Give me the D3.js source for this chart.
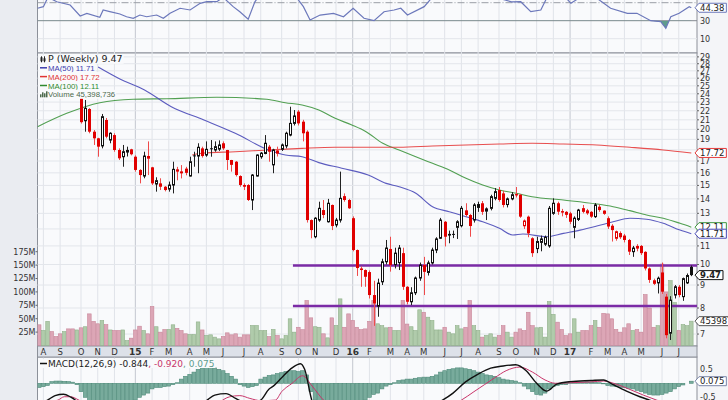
<!DOCTYPE html>
<html>
<head>
<meta charset="utf-8">
<script src="https://cdn.jsdelivr.net/npm/d3@7"></script>
<style>
  body { margin: 0; background: #eef0f4; }
  svg { display: block; }
  text { font-family: "DejaVu Sans", sans-serif; }
</style>
</head>
<body>
<script>
// weekly bars, bar 0 = week of 2014-07-28
const nBars = 157;
const firstWeek = new Date(2014, 6, 28);
const monthLabels = ["A","S","O","N","D","15","F","M","A","M","J","J","A","S","O","N","D","16",
  "F","M","A","M","J","J","A","S","O","N","D","17","F","M","A","M","J","J"];

// candles start at bar 10 (earlier ones sit behind the legend)
const firstCandle = 10;
const closeBeforeFirst = 23.5;
const open = [23.45,20.9,22.2,19.76,19.1,18.37,20.98,18.93,19.42,17.99,
  17.38,17.8,18.05,17.38,16.24,15.74,17.25,16.46,15.11,15.16,
  14.9,14.72,15.03,16.29,16.0,16.35,15.74,17.5,17.44,18.14,
  17.53,18.15,17.99,18.07,18.62,17.99,17.09,16.94,15.74,15.03,
  15.03,13.92,15.74,17.38,17.67,18.3,16.67,17.7,18.05,18.37,
  19.42,20.62,21.9,20.8,19.76,12.56,11.53,12.56,13.22,12.45,
  13.57,12.25,12.56,14.2,13.92,12.68,10.77,9.8,9.72,9.62,
  8.55,8.08,9.15,10.14,10.83,10.0,10.1,10.6,8.92,8.26,
  8.65,9.33,9.97,9.6,10.08,10.77,11.44,12.45,11.7,11.7,
  12.1,12.2,13.2,12.89,12.56,13.4,13.69,13.15,13.34,14.04,
  14.65,14.4,13.6,14.0,14.35,14.3,12.2,12.78,11.44,10.85,
  11.2,11.1,11.0,13.0,13.69,13.15,13.1,13.0,12.1,12.6,
  13.35,13.2,13.1,12.78,13.45,13.0,12.68,12.2,11.44,11.75,
  11.6,11.34,10.68,11.0,11.0,10.67,9.8,9.08,9.1,9.6,
  8.48,7.03,8.55,8.92,8.48,9.1,9.88];
const high = [23.6,23.25,22.3,19.93,19.15,21.64,21.2,19.7,19.6,18.14,
  18.46,18.3,18.1,17.5,16.3,17.83,18.8,16.5,15.64,15.56,
  14.95,15.3,16.94,16.5,16.65,16.5,17.38,17.83,18.62,18.3,
  18.8,18.93,18.8,18.9,18.8,18.0,17.1,17.0,15.8,15.16,
  15.1,15.9,17.6,17.8,19.42,18.46,18.1,18.3,18.6,19.76,
  22.46,22.08,22.08,21.0,19.9,12.6,12.75,13.8,13.92,14.0,
  13.6,12.7,16.1,14.4,14.0,12.8,10.8,9.9,9.75,9.7,
  9.2,9.3,10.3,11.34,11.53,10.9,11.05,10.9,8.95,8.9,
  9.4,10.1,10.4,10.2,10.9,11.5,12.7,12.5,11.9,11.9,
  12.55,13.5,13.69,12.95,13.7,13.8,13.85,13.4,14.3,14.8,
  14.88,14.6,14.1,14.5,14.88,14.35,12.6,12.85,11.5,11.53,
  11.6,11.6,13.5,14.04,13.8,13.3,13.15,13.1,12.8,13.3,
  13.57,13.3,13.15,13.7,13.6,13.2,12.8,12.3,11.9,11.85,
  11.7,11.4,11.0,11.1,11.05,10.7,9.85,9.3,9.4,10.1,
  8.6,8.5,9.0,9.0,9.35,9.55,9.95];
const low = [20.6,19.76,19.6,18.46,17.38,18.14,19.1,18.62,17.83,17.09,
  16.51,17.4,17.5,16.1,15.16,15.56,15.82,15.03,14.53,14.65,
  14.55,14.53,14.4,15.4,15.55,15.8,15.7,16.51,15.97,17.3,
  17.38,17.38,17.83,17.9,17.99,16.24,16.1,15.7,14.9,14.65,
  13.85,13.22,15.7,17.2,17.6,16.94,15.97,17.4,17.9,18.14,
  19.3,20.4,20.4,18.8,12.4,11.44,11.44,12.45,12.68,12.4,
  11.93,12.1,12.4,13.8,13.3,10.7,9.43,8.92,8.92,8.4,
  7.3,7.65,9.0,10.0,9.64,9.8,9.72,8.78,8.15,8.12,
  8.55,9.2,8.55,9.45,10.0,10.6,11.4,10.97,11.15,11.45,
  11.4,12.1,12.78,11.53,12.4,13.1,12.9,12.56,13.2,13.9,
  13.8,13.4,13.4,13.9,14.1,12.7,12.0,11.5,10.4,10.6,
  10.7,11.0,10.9,12.9,12.9,12.8,12.7,12.3,11.44,12.5,
  13.0,12.9,12.7,12.7,13.1,12.9,12.0,11.25,11.3,11.4,
  11.2,10.5,10.4,10.7,10.5,9.7,9.1,9.0,8.62,8.6,
  6.85,6.79,8.4,8.45,8.3,9.05,9.42];
const close = [20.75,22.28,19.76,19.1,18.3,21.34,19.26,19.6,17.99,17.24,
  17.83,17.95,17.6,16.24,15.82,17.44,17.4,15.16,15.37,14.9,
  14.65,15.03,16.29,16.1,16.08,16.0,16.94,17.42,18.24,17.44,
  18.05,18.1,18.3,18.46,18.14,17.09,16.67,15.82,15.03,14.9,
  13.92,15.82,17.53,17.7,18.62,17.83,17.99,17.9,18.46,19.6,
  20.62,21.42,20.62,19.6,12.56,11.93,12.68,13.34,12.89,13.69,
  12.18,12.56,14.04,13.92,13.34,10.77,9.82,9.72,9.39,8.55,
  8.19,9.09,10.14,10.88,9.97,10.6,10.88,8.92,8.26,8.65,
  9.33,9.97,9.63,10.08,10.77,11.4,12.56,11.53,11.6,11.65,
  12.45,13.34,12.89,12.18,13.57,13.6,13.1,13.3,14.16,14.53,
  13.92,13.57,14.0,14.3,14.25,12.78,12.5,11.73,10.6,11.25,
  11.4,11.5,13.34,13.69,13.11,13.05,12.9,12.45,12.68,13.22,
  13.1,13.0,12.78,13.57,13.22,13.15,12.15,11.93,11.83,11.5,
  11.34,10.68,10.88,10.85,10.6,9.8,9.24,9.2,9.32,8.7,
  6.96,8.33,8.92,8.55,9.3,9.45,9.47];

// weekly volume, millions (all bars)
const volume = [38.6,28,45,26,16.8,21.8,26,31,31,29,
  33,35,59,45,40.5,46.6,39,29,28,28,
  29,9.3,13.7,29,36,28,21.8,72.8,35,24.9,
  29.9,30,38.6,32,28,21.8,20.5,20.5,44,29,
  18.7,19.9,15.6,12.4,16.8,23.6,19.9,21.8,15.6,19.9,
  19.9,37.3,37.3,28,28,16.8,29.9,18.7,12.4,18.7,
  49.8,24.9,34,29.5,84,51.6,35,34,21.8,14.3,
  51.6,37.3,87,34,59,46.6,34,29.5,31,45,
  84,40.5,37,33,34,28,28,84,40,35,
  28,66.6,62,52.8,46.6,29,29,34,24.9,21.8,
  37,31,34,84,37,28,15.6,18.7,21.8,15.6,
  18.7,37,24.9,15.6,24.9,31,28,62,37,33,
  34,15.6,82,58,43.5,29.9,18.7,21.8,49.8,24.9,
  28,28,37,46.6,34,60,59,49.8,29.9,24.9,
  33,40.5,28,29.9,24.9,95,70,34,37,152,
  100,121,80,28,39,37,45.4];
// up/down colour of the volume bars for the weeks hidden behind the legend (bars 0-10)
const earlyVolUp = [false,true,true,false,false,false,true,false,false,true,false];

// moving averages, [bar, value]
const ma50 = [[14.1,27.53],[19.3,25.89],[25.2,24.47],[31.6,22.46],[39.4,20.98],[46.9,19.6],
  [54.9,17.99],[58.9,17.53],[62.9,17.38],[66.9,16.86],[72.4,16.38],[78.7,15.82],[83,15.16],
  [86.1,14.9],[90.1,14.41],[94.1,13.45],[98.1,13.11],[102.1,12.78],[106.1,12.45],[110.1,12.04],
  [113.3,11.63],[115.7,11.69],[121.4,11.53],[125.4,11.73],[129.4,11.93],[133.4,12.18],
  [137.3,12.45],[141.3,12.68],[145.3,12.61],[149.3,12.35],[153.3,11.93],[156,11.71]];
const ma200 = [[36.6,17.53],[38.9,17.69],[46.9,17.83],[54.9,17.99],[62.9,18.14],[70.8,18.24],
  [78.7,18.24],[86.1,18.24],[94.1,18.36],[102.1,18.46],[110.1,18.55],[117.9,18.62],
  [125.4,18.55],[133.4,18.46],[141.3,18.24],[149.3,17.99],[156,17.72]];
const ma100 = [[-0.4,20.27],[6.6,21.71],[14.5,22.93],[22.5,23.33],[30.5,23.4],[42.5,23.57],
  [54.4,23.33],[58.9,22.93],[62.9,22.66],[66.9,22.08],[70.8,21.16],[74.8,20.45],[78.2,19.76],
  [82.2,18.62],[86.1,17.99],[90.1,17.38],[94.1,16.8],[98.1,16.24],[102.1,15.56],[106.1,15.03],
  [110.1,14.65],[114.1,14.41],[117.9,14.16],[125.4,13.92],[133.4,13.64],[137.3,13.45],
  [141.3,13.18],[145.3,12.89],[149.3,12.68],[153.3,12.35],[156,12.11]];

// horizontal levels drawn on the chart
const levels = [9.95, 8.08];
const levelStartBar = 60.7;

// RSI(14), [bar, value]
const rsi = [[-0.4,43.8],[1,45.6],[2.1,56],[4.2,51.1],[7.4,47.4],[9.8,35.2],[11.4,38.2],[14.5,33.8],
  [15.3,41.9],[16.9,40],[19.3,37.4],[20.9,34.4],[22.5,32.7],[24.1,36.3],[25.7,34.4],[28.1,36.3],
  [29.7,32.7],[31.3,38.2],[33.7,43.8],[36.1,41.9],[38.5,49.3],[40.1,51.1],[42.5,51.1],[44,56],
  [46.4,45.6],[48,40],[50,31.6],[51.6,51],[53.3,62],[57.6,64],[61.2,58],[63.2,45.6],[64.8,30.8],
  [67.2,36.3],[70.4,38.2],[72.8,34.4],[75.1,43.8],[77.7,32.7],[80.1,30],[82.5,40],[84.9,41.9],
  [86.5,43.8],[88.1,36.3],[92.1,45.6],[94.4,58],[98.3,64],[103,62],[107.8,58],[111.4,53],[113,51],
  [115.2,51.1],[117.6,40],[120,41.9],[121.5,56],[124.7,62],[127.2,49.3],[129.4,56],[133.4,55],
  [136.7,43.8],[140.7,38.2],[143,38.2],[146.3,30],[148.7,28.9],[149.9,21.6],[151.1,34.4],
  [153.1,38.2],[155.5,45.6],[156,44.38]];

// MACD(12,26,9): line and signal as [bar, value], histogram per bar
const macdLine = [[0,-0.75],[2,-0.6],[3.8,-0.44],[5.8,-0.39],[7.4,-0.48],[8.6,-0.6],[10,-0.9],
  [14,-1.4],[20,-1.6],[28,-1.3],[35,-0.95],[40,-0.62],[42,-0.42],[44.7,-0.37],[47,-0.54],
  [48.5,-0.65],[51,-0.7],[53,-0.6],[55,-0.2],[56,-0.1],[58,0.2],[60.5,0.55],[62.5,0.7],
  [63.5,0.5],[65.2,-0.6],[67,-1.1],[75,-1.6],[85,-1.3],[92,-0.9],[96.5,-0.6],[99,-0.35],
  [102,0.05],[105,0.33],[108,0.54],[111,0.62],[114,0.66],[116.5,0.45],[119,0.0],[121.4,-0.28],
  [123.8,-0.03],[127,0.06],[132,0.1],[135,0.12],[137.3,-0.05],[140.5,-0.28],[143.7,-0.48],
  [146,-0.6],[150,-0.8],[153,-0.95],[156,-0.844]];
const signalLine = [[0,-0.9],[3,-0.65],[4.5,-0.6],[6,-0.48],[7.5,-0.48],[9.5,-0.6],[12,-0.8],
  [20,-1.0],[30,-1.1],[40,-0.95],[45.6,-0.48],[48,-0.44],[50.4,-0.54],[53,-0.62],[56.5,-0.6],
  [58,-0.3],[60.5,0.0],[63,0.27],[65.3,-0.1],[68,-0.6],[72,-1.0],[85,-1.2],[95,-0.95],
  [101,-0.6],[104,-0.3],[106.5,-0.05],[109,0.2],[111.7,0.45],[115,0.58],[118,0.4],[121,0.12],
  [123.5,0.0],[127,0.02],[132,0.05],[135,0.08],[138,-0.03],[141,-0.2],[144.5,-0.42],
  [147.7,-0.6],[152,-0.8],[156,-0.92]];
const macdHist = [-0.15,-0.12,-0.08,0.06,0.08,0.08,0.07,0.06,0.04,-0.05,
  -0.3,-0.5,-0.65,-0.75,-0.8,-0.85,-0.85,-0.8,-0.8,-0.75,-0.7,-0.7,-0.65,-0.6,-0.5,
  -0.42,-0.35,-0.2,-0.15,-0.15,-0.12,-0.1,-0.05,0.02,
  0.15,0.25,0.32,0.4,0.5,0.55,0.57,0.57,0.55,0.5,0.45,0.35,0.25,0.15,
  -0.05,-0.1,-0.15,-0.12,-0.08,
  0.15,0.22,0.28,0.3,0.35,0.38,0.42,0.45,0.45,0.42,0.45,0.3,
  -0.3,-0.6,-0.75,-0.85,-0.9,-0.9,-0.85,-0.8,-0.8,-0.75,-0.75,-0.7,-0.65,-0.6,-0.5,
  -0.4,-0.35,-0.2,-0.1,-0.05,0.02,
  0.1,0.12,0.15,0.15,0.18,0.2,0.22,0.22,0.25,0.3,
  0.4,0.45,0.5,0.52,0.55,0.55,0.52,0.5,0.45,
  0.4,0.35,0.3,0.28,0.25,0.2,
  0.15,0.12,0.1,0.08,0.02,
  -0.1,-0.2,-0.3,-0.4,-0.42,-0.35,
  -0.2,-0.12,-0.08,-0.05,-0.05,
  0.02,0.03,0.04,0.04,0.05,0.04,0.03,0.02,-0.02,
  -0.08,-0.1,-0.12,-0.15,-0.15,-0.18,-0.2,-0.25,-0.3,
  -0.35,-0.4,-0.42,-0.42,-0.4,-0.35,-0.3,-0.2,-0.12,
  -0.06,0.0,0.075];

// axis tick labels (12 and 18 sit under the value tags)
const priceTicks = [7,8,9,10,11,13,14,15,16,17,19,20,21,22,23,24,25,26,27,28,29];
const priceGrid = [7,8,9,10,11,12,13,14,15,16,17,18,19,20,21,22,23,24,25,26,27,28,29];
const volTicks = [25,50,75,100,125,150,175];
const rsiTicks = [10,30];
const macdTicks = [0.5,-0.5];

// ---------------------------------------------------------------------------

const W = 728, H = 400;
const plotL = 37.5, plotR = 697;
const priceTop = 53, priceBot = 346, macdTop = 357;
const bg = '#f9fafc';

const x = d3.scaleLinear().domain([0, nBars - 1]).range([39.2, 691.3]);
const yPrice = d3.scaleLog().domain([10, 20]).range([264.5, 264.5 - 195 * Math.LN2]);
const yVol = d3.scaleLinear().domain([0, 175]).range([345.5, 251.7]);
const yRsi = d3.scaleLinear().domain([30, 10]).range([20.7, 38.7]);
const yMacd = d3.scaleLinear().domain([0.5, -0.5]).range([369.3, 397.3]);

const svg = d3.select('body').append('svg').attr('width', W).attr('height', H);
const defs = svg.append('defs');

function clip(id, y0, y1) {
    defs.append('clipPath').attr('id', id)
        .append('rect').attr('x', plotL).attr('y', y0)
        .attr('width', plotR - plotL).attr('height', y1 - y0);
    return `url(#${id})`;
}

svg.append('rect').attr('width', W).attr('height', H).attr('fill', '#eaecf1');
svg.append('rect').attr('x', plotR).attr('width', W - plotR).attr('height', H).attr('fill', '#f4f5f8');

// panels
[[-5, priceTop], [priceTop, priceBot], [macdTop, 410]].forEach(([a, b]) => {
    svg.append('rect').attr('x', plotL).attr('y', a).attr('width', plotR - plotL).attr('height', b - a)
        .attr('fill', bg).attr('stroke', '#8c9099').attr('stroke-width', 1);
});

// month grid lines + labels
const dates = d3.range(nBars).map(i => d3.timeDay.offset(firstWeek, 7 * i));
const monthStarts = d3.range(1, nBars).filter(i => dates[i].getMonth() !== dates[i - 1].getMonth());
const grid = svg.append('g');
monthStarts.forEach((i, k) => {
    const isYear = monthLabels[k].length > 1;
    [[0, priceTop], [priceTop, priceBot], [macdTop, H]].forEach(([a, b]) => {
        grid.append('line').attr('x1', x(i)).attr('x2', x(i)).attr('y1', a).attr('y2', b)
            .attr('stroke', isYear ? '#c3c7cf' : '#e0e3e9').attr('stroke-width', 1);
    });
});

// horizontal price grid
priceGrid.forEach(p => {
    grid.append('line').attr('x1', plotL).attr('x2', plotR)
        .attr('y1', yPrice(p)).attr('y2', yPrice(p))
        .attr('stroke', '#e3e6eb').attr('stroke-width', 1);
});

// date band
svg.append('rect').attr('x', plotL).attr('y', priceBot).attr('width', plotR - plotL).attr('height', macdTop - priceBot)
    .attr('fill', '#dde1e9').attr('stroke', '#8c9099');
monthStarts.forEach((i, k) => {
    const lab = monthLabels[k];
    svg.append('text').attr('x', x(i)).attr('y', 355).attr('text-anchor', 'middle')
        .attr('font-size', lab.length > 1 ? 9 : 8.5).attr('font-weight', lab.length > 1 ? 'bold' : 'normal')
        .attr('fill', '#333').text(lab);
});

// ---------------- RSI panel
const rsiG = svg.append('g').attr('clip-path', clip('cRsi', -5, priceTop));
rsiG.append('line').attr('x1', plotL).attr('x2', plotR).attr('y1', yRsi(10)).attr('y2', yRsi(10)).attr('stroke', '#e3e6eb');
rsiG.append('line').attr('x1', plotL).attr('x2', plotR).attr('y1', yRsi(30)).attr('y2', yRsi(30)).attr('stroke', '#858990');
rsiG.append('line').attr('x1', plotL).attr('x2', plotR).attr('y1', yRsi(50)).attr('y2', yRsi(50))
    .attr('stroke', '#9a9ea6').attr('stroke-dasharray', '7,2,1,2');
const rsiFillClip = defs.append('clipPath').attr('id', 'cRsiLow');
rsiFillClip.append('rect').attr('x', plotL).attr('y', yRsi(30)).attr('width', plotR - plotL).attr('height', 40);
rsiG.append('path').datum(rsi).attr('clip-path', 'url(#cRsiLow)')
    .attr('d', d3.area().x(d => x(d[0])).y0(yRsi(30)).y1(d => yRsi(d[1])))
    .attr('fill', '#5f9c8c');
rsiG.append('path').datum(rsi)
    .attr('d', d3.line().x(d => x(d[0])).y(d => yRsi(d[1])))
    .attr('fill', 'none').attr('stroke', '#6c78bb').attr('stroke-width', 1.2);

// ---------------- price panel
const priceG = svg.append('g').attr('clip-path', clip('cPrice', priceTop, priceBot));

const volUp = volume.map((v, i) => {
    if (i <= firstCandle) return earlyVolUp[i];
    return close[i - firstCandle] >= close[i - firstCandle - 1];
});
priceG.append('g').selectAll('rect').data(volume).join('rect')
    .attr('x', (v, i) => x(i) - 1.8).attr('width', 3.6)
    .attr('y', v => yVol(v)).attr('height', v => yVol(0) - yVol(v))
    .attr('fill', (v, i) => volUp[i] ? '#b0cbab' : '#dca6b6')
    .attr('stroke', (v, i) => volUp[i] ? '#8fb089' : '#c88699').attr('stroke-width', 0.6);

priceG.append('g').selectAll('line').data(levels).join('line')
    .attr('x1', x(levelStartBar)).attr('x2', plotR)
    .attr('y1', d => yPrice(d)).attr('y2', d => yPrice(d))
    .attr('stroke', '#7b2ba6').attr('stroke-width', 2.4);

const maLine = d3.line().x(d => x(d[0])).y(d => yPrice(d[1])).curve(d3.curveMonotoneX);
[[ma100, '#3f963f'], [ma200, '#e63c3c'], [ma50, '#4a4ab8']].forEach(([data, col]) => {
    priceG.append('path').datum(data).attr('d', maLine)
        .attr('fill', 'none').attr('stroke', col).attr('stroke-width', 1.1).attr('opacity', 0.9);
});

const candles = open.map((o, k) => ({
    i: k + firstCandle, o, h: high[k], l: low[k], c: close[k],
    prev: k ? close[k - 1] : closeBeforeFirst
}));
const cg = priceG.append('g');
candles.forEach(d => {
    const red = d.c < d.prev;
    const filled = d.c < d.o;
    const col = red ? '#e00000' : '#111';
    const cx = Math.round(x(d.i)) + 0.5;
    cg.append('line').attr('x1', cx).attr('x2', cx).attr('y1', yPrice(d.h)).attr('y2', yPrice(d.l))
        .attr('stroke', red ? '#ef4a4a' : '#222').attr('stroke-width', 1);
    const top = yPrice(Math.max(d.o, d.c)), bot = yPrice(Math.min(d.o, d.c));
    if (filled) {
        cg.append('rect').attr('x', cx - 1.5).attr('y', top).attr('width', 3).attr('height', Math.max(1, bot - top))
            .attr('fill', col);
    } else {
        cg.append('rect').attr('x', cx - 1).attr('y', top).attr('width', 2).attr('height', Math.max(0.5, bot - top))
            .attr('fill', '#fff').attr('stroke', col).attr('stroke-width', 1);
    }
});

// ---------------- MACD panel
const macdG = svg.append('g').attr('clip-path', clip('cMacd', macdTop, H + 10));
macdG.append('g').selectAll('rect').data(macdHist).join('rect')
    .attr('x', (v, i) => x(i) - 1.9).attr('width', 3.8)
    .attr('y', v => Math.min(yMacd(0), yMacd(v))).attr('height', v => Math.abs(yMacd(v) - yMacd(0)))
    .attr('fill', '#78ab9c').attr('stroke', '#4e8a79').attr('stroke-width', 0.6);
const mLine = d3.line().x(d => x(d[0])).y(d => yMacd(d[1])).curve(d3.curveMonotoneX);
macdG.append('path').datum(signalLine).attr('d', mLine)
    .attr('fill', 'none').attr('stroke', '#c8356a').attr('stroke-width', 1);
macdG.append('path').datum(macdLine).attr('d', mLine)
    .attr('fill', 'none').attr('stroke', '#111').attr('stroke-width', 1.4);

// ---------------- axes
const axisText = (xp, yp, t, anchor) => svg.append('text').attr('x', xp).attr('y', yp + 2.8)
    .attr('font-size', 8).attr('fill', '#333').attr('text-anchor', anchor || 'start').text(t);

priceGrid.forEach(p => {
    svg.append('line').attr('x1', plotR).attr('x2', plotR + 2).attr('y1', yPrice(p)).attr('y2', yPrice(p)).attr('stroke', '#666');
});
priceTicks.forEach(p => axisText(plotR + 3, yPrice(p), p));
rsiTicks.forEach(v => axisText(plotR + 3, yRsi(v), v));
macdTicks.forEach(v => axisText(plotR + 3, yMacd(v), v));
volTicks.forEach(v => {
    svg.append('line').attr('x1', plotL - 2).attr('x2', plotL).attr('y1', yVol(v)).attr('y2', yVol(v)).attr('stroke', '#666');
    axisText(plotL - 2, yVol(v), v + 'M', 'end');
});

function tag(yp, label, col, bold) {
    const g = svg.append('g').attr('transform', `translate(${plotR - 2},${yp})`);
    const path = g.append('path').attr('fill', '#fff').attr('stroke', col).attr('stroke-width', 1);
    const t = g.append('text').attr('x', 5).attr('y', 3.2).attr('font-size', 8.5)
        .attr('font-weight', bold ? 'bold' : 'normal').attr('fill', '#222').text(label);
    const w = t.node().getComputedTextLength() + 7;
    path.attr('d', `M0,0 L4,-4.5 H${w} V4.5 H4 Z`);
}
tag(yRsi(44.38), '44.38', '#6c78bb');
tag(yPrice(17.72), '17.72', '#e63c3c');
tag(yPrice(12.11), '12.11', '#3f963f');
tag(yPrice(11.71), '11.71', '#4a4ab8');
tag(yPrice(9.47), '9.47', '#111', true);
tag(yVol(45.4), '45398736', '#555');
tag(yMacd(0.075), '0.075', '#7b86a8');

// ---------------- legends
function legendLine(yp, parts, icon, font) {
    const g = svg.append('g');
    const bgRect = g.append('rect').attr('fill', bg);
    const t = g.append('text').attr('x', 48).attr('y', yp + 3).attr('font-size', font.size)
        .style('font-family', font.family);
    parts.forEach(([s, col]) => t.append('tspan').attr('fill', col).text(s));
    icon(g, yp);
    const bb = t.node().getBBox();
    bgRect.attr('x', plotL + 1).attr('y', yp - 4.5).attr('width', bb.x + bb.width - plotL).attr('height', 9);
}
const dash = col => (g, yp) => g.append('line').attr('x1', 40).attr('x2', 47).attr('y1', yp).attr('y2', yp)
    .attr('stroke', col).attr('stroke-width', 1.5);
const bigFont = {size: 9.5, family: '"DejaVu Sans", sans-serif'};
const smallFont = {size: 7.8, family: '"Liberation Sans", Arial, sans-serif'};
const macdFont = {size: 9, family: '"DejaVu Sans", sans-serif'};

legendLine(59.3, [['P (Weekly) 9.47', '#222']], (g, yp) => {
    g.append('line').attr('x1', 41.5).attr('x2', 41.5).attr('y1', yp - 3).attr('y2', yp + 3).attr('stroke', '#222');
    g.append('rect').attr('x', 40.5).attr('y', yp - 2).attr('width', 2).attr('height', 4).attr('fill', '#222');
    g.append('line').attr('x1', 44.5).attr('x2', 44.5).attr('y1', yp - 3).attr('y2', yp + 3).attr('stroke', '#222');
    g.append('rect').attr('x', 43.5).attr('y', yp - 1).attr('width', 2).attr('height', 3).attr('fill', '#222');
}, bigFont);
legendLine(67.8, [['MA(50) 11.71', '#3c3cae']], dash('#3c3cae'), smallFont);
legendLine(76.6, [['MA(200) 17.72', '#e03434']], dash('#e03434'), smallFont);
legendLine(85.5, [['MA(100) 12.11', '#2f8a2f']], dash('#2f8a2f'), smallFont);
legendLine(94.3, [['Volume 45,398,736', '#4d6a4d']], (g, yp) => {
    [[40, 3], [42, 5], [44, 4], [46, 6]].forEach(([bx, bh]) =>
        g.append('rect').attr('x', bx).attr('y', yp + 3 - bh).attr('width', 1.5).attr('height', bh).attr('fill', '#4d6a4d'));
}, smallFont);
legendLine(363.5, [['MACD(12,26,9) -0.844', '#222'], [', -0.920', '#c8356a'], [', 0.075', '#5f9c8c']],
    dash('#111'), macdFont);
</script>
</body>
</html>
